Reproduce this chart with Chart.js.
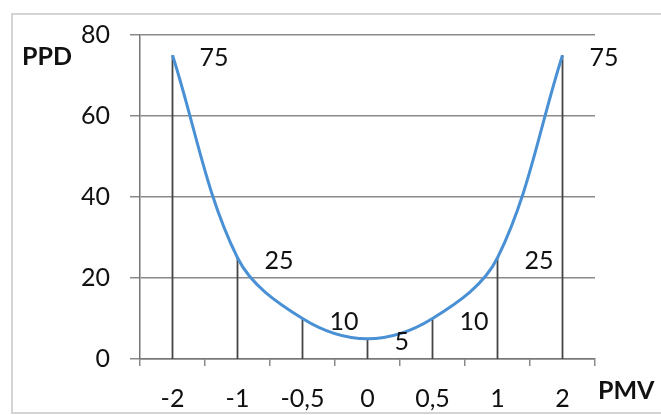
<!DOCTYPE html>
<html>
<head>
<meta charset="utf-8">
<script src="https://cdn.jsdelivr.net/npm/chart.js@4.4.1/dist/chart.umd.min.js"></script>
<style>
  body { margin: 0; background: #fff; }
</style>
</head>
<body>
<canvas id="myChart" width="661" height="415"></canvas>
<script>
const pmvLabels = ["-2", "-1", "-0,5", "0", "0,5", "1", "2"];
const ppdValues = [75, 25, 10, 5, 10, 25, 75];
const yMin = 0;
const yMax = 80;
const yStep = 20;

const FONT = "Lato, 'Open Sans', sans-serif";

// vertical drop lines from each point down to the x axis
const dropLines = {
  id: "dropLines",
  beforeDatasetsDraw(chart) {
    const ctx = chart.ctx;
    const y0 = chart.scales.y.getPixelForValue(0);
    ctx.save();
    ctx.strokeStyle = "#444";
    ctx.lineWidth = 1.8;
    chart.getDatasetMeta(0).data.forEach((pt) => {
      ctx.beginPath();
      ctx.moveTo(pt.x, pt.y);
      ctx.lineTo(pt.x, y0);
      ctx.stroke();
    });
    ctx.restore();
  },
};

// value labels, axis names and the outer frame
const decorations = {
  id: "decorations",
  beforeDraw(chart) {
    const ctx = chart.ctx;
    ctx.save();
    ctx.strokeStyle = "#d4d4d4";
    ctx.lineWidth = 2;
    ctx.beginPath();
    ctx.moveTo(chart.width, 14);
    ctx.lineTo(12, 14);
    ctx.lineTo(12, 413);
    ctx.lineTo(chart.width, 413);
    ctx.stroke();
    ctx.restore();
  },
  afterDraw(chart) {
    const ctx = chart.ctx;
    const area = chart.chartArea;
    ctx.save();
    ctx.fillStyle = "#111";
    ctx.font = "25px " + FONT;
    ctx.textAlign = "left";
    ctx.textBaseline = "middle";
    chart.getDatasetMeta(0).data.forEach((pt, i) => {
      ctx.fillText(String(ppdValues[i]), pt.x + 27, pt.y + 3);
    });
    ctx.font = "bold 25px " + FONT;
    ctx.fillText("PPD", 22, area.top + 22);
    ctx.fillText("PMV", area.right + 3, area.bottom + 32);
    ctx.restore();
  },
};

const config = {
  type: "line",
  data: {
    labels: pmvLabels,
    datasets: [
      {
        label: "PPD",
        data: ppdValues,
        borderColor: "#4a90d4",
        borderWidth: 3,
        tension: 0.35,
        pointRadius: 0,
        fill: false,
      },
    ],
  },
  options: {
    responsive: false,
    animation: false,
    layout: { padding: { left: 0, right: 66, top: 35, bottom: 0 } },
    plugins: {
      legend: { display: false },
      tooltip: { enabled: false },
    },
    scales: {
      x: {
        type: "category",
        offset: true,
        afterFit(scale) { scale.height = 56; },
        grid: {
          offset: true,
          drawOnChartArea: false,
          drawTicks: true,
          tickLength: 7,
          color: "#8a8a8a",
          lineWidth: 1.5,
        },
        border: { display: true, color: "#777", width: 1.5 },
        ticks: {
          color: "#111",
          font: { family: FONT, size: 25 },
          padding: 18,
          maxRotation: 0,
        },
      },
      y: {
        min: yMin,
        max: yMax,
        afterFit(scale) { scale.width = 140; },
        grid: {
          color: "#8a8a8a",
          lineWidth: 1.5,
          drawTicks: true,
          tickLength: 10,
        },
        border: { display: true, color: "#777", width: 1.5 },
        ticks: {
          stepSize: yStep,
          color: "#111",
          font: { family: FONT, size: 25 },
          padding: 20,
        },
      },
    },
  },
  plugins: [dropLines, decorations],
};

const ctx1 = document.getElementById("myChart");
const chart1 = new Chart(ctx1, config);
</script>
</body>
</html>
